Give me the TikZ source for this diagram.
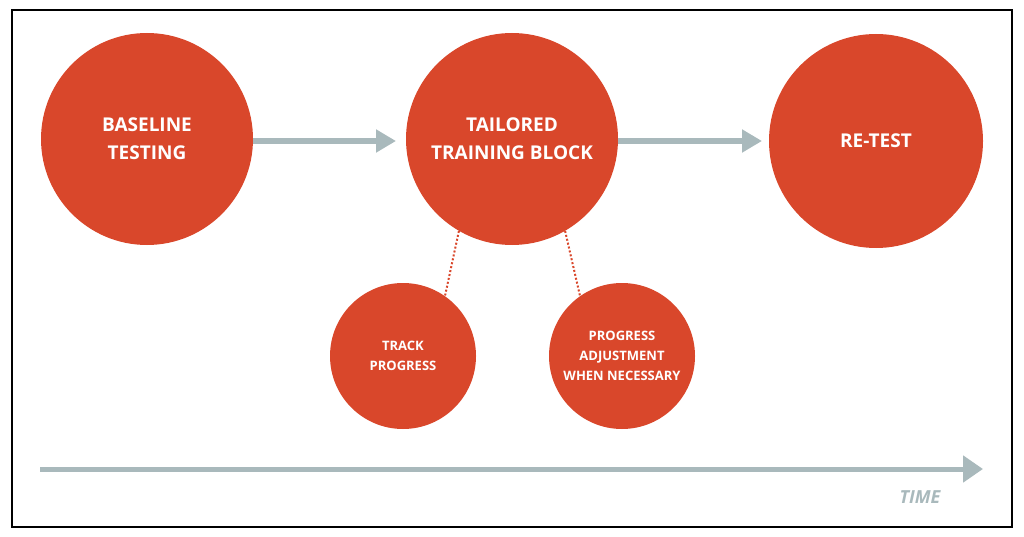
\documentclass[tikz,border=0pt]{standalone}
\usepackage{fontspec}
\setmainfont{Open Sans}
\usetikzlibrary{arrows.meta}
\definecolor{cred}{HTML}{D9472B}
\definecolor{cgray}{HTML}{A9B9BC}
\begin{document}
\begin{tikzpicture}[x=1pt,y=-1pt,
 big/.style={circle,fill=cred,minimum size=212pt,inner sep=0pt,text=white,font=\bfseries\fontsize{19}{28}\selectfont,align=center},
 small/.style={circle,fill=cred,minimum size=146pt,inner sep=0pt,text=white,font=\bfseries\fontsize{13}{20}\selectfont,align=center},
 flow/.style={cgray,line width=6pt,-{Triangle[length=20pt,width=22pt]}},
 dots/.style={cred,line width=2pt,dotted}]
\useasboundingbox (0,0) rectangle (1024,537);
\draw[line width=2pt] (12,10) rectangle (1012,527);
\node[big] (a) at (147,139) {BASELINE\\TESTING};
\node[big] (b) at (512,139) {TAILORED\\TRAINING BLOCK};
\node[big,minimum size=214pt] (c) at (876,141) {RE-TEST};
\node[small] (d) at (403,356) {TRACK\\PROGRESS};
\node[small] (e) at (622,356) {PROGRESS\\ADJUSTMENT\\WHEN NECESSARY};
\draw[flow] (a.east|-0,141) -- (396,141);
\draw[flow] (b.east|-0,141) -- (762,141);
\draw[dots] (b.240) -- (d.55);
\draw[dots] (b.300) -- (e.125);
\coordinate (t0) at (40,469);
\coordinate (t1) at (983,469);
\draw[cgray,line width=5pt,-{Triangle[length=20pt,width=26pt]}] (t0) -- (t1);
\node[text=cgray,font=\bfseries\itshape\fontsize{18}{20}\selectfont] (time) at (920,497) {TIME};
\end{tikzpicture}
\end{document}
